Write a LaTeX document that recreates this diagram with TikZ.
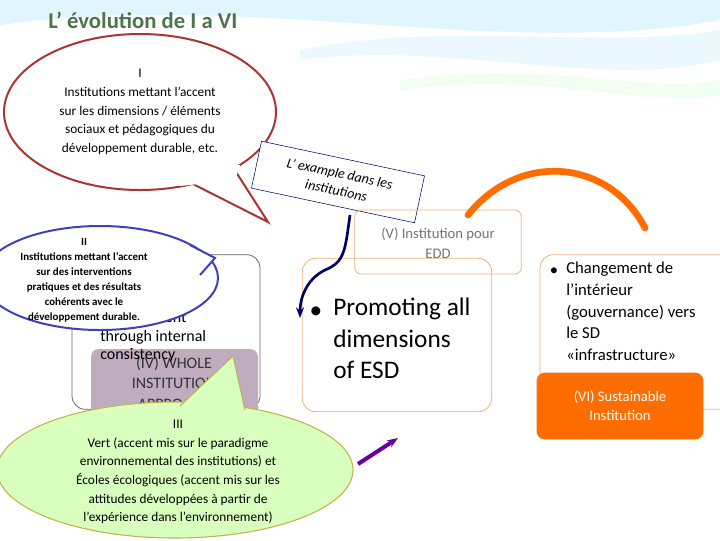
\documentclass[tikz,border=0pt]{standalone}
\usepackage{fontspec}
\setmainfont{Carlito}
\usetikzlibrary{arrows.meta}
\begin{document}
\begin{tikzpicture}[x=0.75pt,y=-0.75pt,
  every node/.style={inner sep=0pt},
  rbox/.style={draw, rounded corners=10pt, line width=0.6pt},
  calltxt/.style={align=center, font=\fontsize{10}{14}\selectfont},
]
\useasboundingbox (0,0) rectangle (720,540);
% background swooshes
\fill[cyan!12] (0,25) .. controls (250,-10) and (500,60) .. (720,20) -- (720,0) -- (0,0) -- cycle;
\fill[cyan!8] (300,60) .. controls (450,40) and (600,90) .. (720,60) -- (720,30) .. controls (600,50) and (450,20) .. (300,50) -- cycle;
\fill[green!6] (400,90) .. controls (550,70) and (650,110) .. (720,95) -- (720,80) .. controls (650,95) and (550,60) .. (400,80) -- cycle;
\node[anchor=west, font=\fontsize{17}{20}\selectfont\bfseries, text=black!60!green!40!gray] (title) at (48,20) {L’ évolution de I a VI};
% callout I
\path[fill=white, draw=red!60!black!80, line width=1.5pt] (140,112) ellipse[x radius=136, y radius=78];
\path[fill=white, draw=red!60!black!80, line width=1.5pt] (185,180) -- (268,222) -- (236,172);
\fill[white] (175,172) -- (240,165) -- (235,180) -- (180,186) -- cycle;
\node[calltxt] (c1) at (140,112) {I\\Institutions mettant l'accent\\sur les dimensions / éléments\\sociaux et pédagogiques du\\développement durable, etc.};
% rotated label
\node[draw=blue!40!black, fill=white, rotate=-12, align=center, font=\itshape\fontsize{10.5}{13}\selectfont, inner sep=4pt, minimum width=125pt, minimum height=36pt] (ex) at (338,182) {L’ example dans les\\institutions};
% box II background
\node[rbox, draw=black!60, minimum width=141pt, minimum height=116pt] (b2) at (166,332) {};
\node[anchor=west, align=left, font=\fontsize{12}{14}\selectfont] (t2) at (100,337) {development\\through internal\\consistency};
\begin{scope}
\clip (91,349) rectangle (258,410);
\fill[violet!30!gray!50, rounded corners=6pt] (91,349) rectangle (258,420);
\node[align=center, font=\fontsize{12}{15.5}\selectfont, text=black!80] (t4) at (174,383) {(IV) WHOLE\\INSTITUTION\\APPROACH};
\end{scope}
\node[anchor=west, align=left, font=\fontsize{12}{14}\selectfont] at (100,337) {\phantom{development}\\\phantom{through internal}\\consistency};
% callout II
\path[fill=white, draw=blue!50!gray, line width=1.5pt] (100,278) ellipse[x radius=118, y radius=52];
\path[fill=white, draw=blue!50!gray, line width=1.5pt] (190,245) -- (215,258) -- (200,275);
\fill[white] (180,248) -- (205,257) -- (195,272) -- cycle;
\node[align=center, font=\bfseries\fontsize{8.2}{11.2}\selectfont] (c2) at (84,280) {II\\Institutions mettant l'accent\\sur des interventions\\pratiques et des résultats\\cohérents avec le\\développement durable.};
% callout III
\path[fill=green!60!yellow!25, draw=olive!60, line width=0.8pt] (175,470) ellipse[x radius=178, y radius=68];
\path[fill=green!60!yellow!25, draw=olive!60, line width=0.8pt] (180,406) -- (233,356) -- (245,410);
\fill[green!60!yellow!25] (175,410) -- (240,405) -- (240,420) -- (180,420) -- cycle;
\node[calltxt] (c3) at (178,472) {III\\Vert (accent mis sur le paradigme\\environnemental des institutions) et\\Écoles écologiques (accent mis sur les\\attitudes développées à partir de\\l'expérience dans l'environnement)};
% box V
\node[rbox, draw=orange!50!brown!60, minimum width=125pt, minimum height=48pt, rounded corners=5pt] (b5) at (438,242) {};
\node[align=center, font=\fontsize{11}{15}\selectfont, text=black!55] (t5) at (438,243) {(V) Institution pour\\EDD};
% promoting box
\node[rbox, draw=orange!50!brown!60, minimum width=142pt, minimum height=115pt] (bp) at (397,335) {};
\node[anchor=north west, align=left, font=\fontsize{19}{23.5}\selectfont] (tp) at (333,298) {Promoting all\\dimensions\\of ESD};
\node[font=\fontsize{19}{23}\selectfont] at (316,313) {•};
% right box
\node[rbox, draw=orange!50!brown!60, minimum width=150pt, minimum height=116pt] (br) at (640,332) {};
\fill[white] (720,0) rectangle (730,540);
\node[anchor=north west, align=left, font=\fontsize{12.5}{16.2}\selectfont] (tr) at (566,262) {Changement de\\l'intérieur\\(gouvernance) vers\\le SD\\«infrastructure»};
\node[font=\fontsize{12.5}{16}\selectfont] at (554,272) {•};
\node[fill=orange!85!red, rounded corners=6pt, minimum width=125pt, minimum height=50pt, align=center, text=white, font=\fontsize{11}{14.5}\selectfont] (b6) at (620,406) {(VI) Sustainable\\Institution};
% arrows
\draw[blue!40!black, line width=2pt, -{Stealth[length=8pt]}] (350,215) .. controls (345,250) and (345,262) .. (325,270) .. controls (305,280) and (300,300) .. (300,318);
\draw[orange!85!red, line width=5pt, line cap=round] (468,215) .. controls (520,150) and (610,160) .. (645,228);
\coordinate (pa) at (398,438);
\draw[violet!80!blue, line width=3pt, -{Stealth[length=8pt]}] (358,464) -- (pa);
\end{tikzpicture}
\end{document}
